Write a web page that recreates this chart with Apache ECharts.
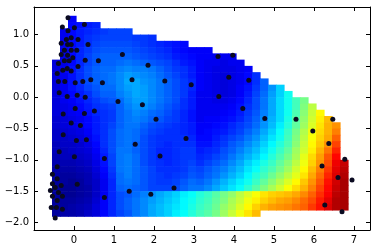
<!DOCTYPE html>
<html>
<head>
<meta charset="utf-8">
<script src="https://cdn.jsdelivr.net/npm/echarts@6/dist/echarts.min.js"></script>
<style>
html,body{margin:0;padding:0;background:#fff;}
#chart{width:375px;height:251px;}
</style>
</head>
<body>
<div id="chart"></div>
<script>
const _ = null;
// grid cell centres of the interpolated field
const xCenters = [-0.45,-0.25,-0.05,0.15,0.35,0.55,0.75,0.95,1.15,1.35,1.55,1.75,1.95,2.15,2.35,2.55,2.75,2.95,3.15,3.35,3.55,3.75,3.95,4.15,4.35,4.55,4.75,4.95,5.15,5.35,5.55,5.75,5.95,6.15,6.35,6.55,6.75];
const yCenters = [1.25,1.15,1.05,0.95,0.85,0.75,0.65,0.55,0.45,0.35,0.25,0.15,0.05,-0.05,-0.15,-0.25,-0.35,-0.45,-0.55,-0.65,-0.75,-0.85,-0.95,-1.05,-1.15,-1.25,-1.35,-1.45,-1.55,-1.65,-1.75,-1.85];
// field values (0..100 on the jet scale), one row per yCenter
const zRows = [
[_,_,12,_,_,_,_,_,_,_,_,_,_,_,_,_,_,_,_,_,_,_,_,_,_,_,_,_,_,_,_,_,_,_,_,_,_],
[_,_,13,14,15,16,_,_,_,_,_,_,_,_,_,_,_,_,_,_,_,_,_,_,_,_,_,_,_,_,_,_,_,_,_,_,_],
[_,11,13,15,16,17,18,19,19,19,_,_,_,_,_,_,_,_,_,_,_,_,_,_,_,_,_,_,_,_,_,_,_,_,_,_,_],
[_,11,13,15,17,18,19,19,19,19,18,18,17,_,_,_,_,_,_,_,_,_,_,_,_,_,_,_,_,_,_,_,_,_,_,_,_],
[_,11,13,15,17,19,20,20,20,20,19,18,17,16,15,14,13,_,_,_,_,_,_,_,_,_,_,_,_,_,_,_,_,_,_,_,_],
[_,10,13,16,18,20,21,21,21,21,20,19,18,17,16,14,13,12,12,12,_,_,_,_,_,_,_,_,_,_,_,_,_,_,_,_,_],
[_,10,13,16,19,21,22,22,22,22,21,20,19,18,17,15,14,13,12,12,11,11,11,_,_,_,_,_,_,_,_,_,_,_,_,_,_],
[9,10,13,16,19,21,22,22,23,24,23,22,21,20,19,17,15,14,12,11,11,10,11,11,_,_,_,_,_,_,_,_,_,_,_,_,_],
[9,11,14,17,20,22,23,23,25,26,25,25,24,22,20,18,17,15,12,11,10,10,10,11,12,_,_,_,_,_,_,_,_,_,_,_,_],
[9,11,14,17,20,22,23,24,26,28,27,26,25,23,21,19,17,15,12,11,10,9,10,11,13,17,_,_,_,_,_,_,_,_,_,_,_],
[9,11,14,17,20,22,23,24,26,29,29,27,26,24,22,20,18,16,12,11,10,9,10,11,13,17,22,_,_,_,_,_,_,_,_,_,_],
[9,11,14,16,19,21,23,23,26,28,29,28,26,24,22,20,18,16,12,11,10,9,10,12,14,18,22,27,33,_,_,_,_,_,_,_,_],
[9,11,13,15,17,20,22,22,25,27,29,28,26,24,22,20,18,15,11,11,10,9,10,12,15,19,23,28,33,39,_,_,_,_,_,_,_],
[9,11,12,14,16,18,20,21,23,26,28,28,26,24,22,20,17,15,11,11,10,10,11,13,16,20,24,29,34,39,44,49,_,_,_,_,_],
[9,10,11,13,15,17,18,19,22,25,27,27,25,23,21,19,17,15,11,11,11,11,12,14,17,20,24,29,34,39,44,50,56,_,_,_,_],
[9,10,11,12,14,16,17,18,22,24,26,25,23,22,20,18,16,14,11,11,11,12,13,15,18,21,25,29,34,39,45,51,57,63,_,_,_],
[8,9,10,11,13,15,17,18,22,24,25,24,22,21,19,18,16,14,11,12,12,13,14,16,19,22,26,30,34,40,46,52,58,64,69,_,_],
[8,9,10,11,13,15,17,19,22,24,24,22,20,19,18,17,16,15,12,12,13,14,16,18,20,23,27,31,36,41,47,53,59,65,70,73,_],
[7,8,9,10,12,15,17,20,23,24,23,21,19,18,17,17,16,15,12,13,14,15,17,19,22,25,29,33,38,43,49,55,61,66,70,75,_],
[7,7,8,9,11,14,17,20,23,24,23,20,18,17,17,17,17,16,13,13,15,17,19,21,24,27,31,35,39,44,50,56,62,67,71,78,_],
[6,7,7,8,10,13,17,20,23,24,22,20,18,17,16,17,17,17,14,14,16,18,21,23,26,29,33,37,41,45,51,57,63,68,73,81,_],
[6,6,7,8,9,12,16,20,24,24,22,20,18,16,16,17,18,18,15,16,17,20,22,25,28,31,35,39,43,47,53,58,64,70,76,84,_],
[5,6,6,7,8,11,15,19,24,25,23,20,18,16,16,17,18,18,16,17,19,21,24,27,30,33,37,41,45,49,54,60,66,72,79,87,_],
[5,5,5,6,7,10,14,19,24,25,23,20,18,17,16,17,18,19,17,19,21,23,26,29,33,36,40,43,47,51,56,61,67,73,80,89,93],
[4,4,4,5,6,9,13,18,24,25,23,21,19,17,17,17,18,20,19,21,23,25,28,31,35,38,42,45,49,53,58,63,69,75,82,90,94],
[4,3,3,4,5,8,12,17,23,25,23,21,19,18,17,18,19,21,20,22,24,27,30,33,37,41,44,48,52,56,60,65,71,77,84,91,95],
[3,3,2,3,5,7,11,16,23,24,23,21,19,18,18,19,21,23,22,24,27,30,33,36,39,43,47,51,55,59,63,68,73,79,86,92,96],
[3,2,2,3,4,7,11,16,22,23,22,21,19,19,19,20,22,24,24,26,29,32,35,38,42,46,50,54,58,62,66,70,75,81,87,93,96],
[3,2,2,3,4,7,11,16,20,21,23,25,27,29,31,33,36,38,41,43,46,49,52,56,59,62,65,67,68,69,71,74,78,83,88,94,96],
[3,3,3,4,5,8,12,16,20,22,24,26,28,30,32,34,37,39,42,44,47,50,54,57,61,64,67,69,71,72,74,77,80,85,90,95,96],
[3,3,4,5,6,9,12,16,20,22,24,26,29,31,33,35,37,40,43,45,48,52,55,59,63,67,70,72,73,74,76,78,82,86,91,95,96],
[3,4,4,5,7,9,13,16,19,21,24,26,29,31,33,36,38,41,44,46,49,53,57,61,65,69,_,_,_,_,_,_,_,_,_,_,_]
];
// scattered sample points
const pointX = [-0.15,-0.29,0.26,0.01,-0.15,-0.07,0.10,-0.19,-0.32,-0.16,-0.07,0.35,-0.24,-0.07,0.07,-0.32,-0.16,-0.03,-0.24,-0.12,0.28,0.61,1.21,-0.39,0.10,-0.28,-0.17,-0.07,-0.42,-0.23,-0.39,0.03,0.22,0.42,0.71,-0.37,-0.17,0.08,0.28,1.10,0.03,-0.27,0.26,0.51,1.85,1.45,2.27,2.93,1.71,2.05,3.60,3.97,3.87,4.37,3.62,4.22,4.77,5.55,6.47,5.97,6.37,6.77,6.20,6.60,6.95,6.27,6.70,2.80,1.53,2.15,2.50,1.38,1.92,-0.07,0.16,-0.27,0.06,0.31,-0.37,0.01,0.76,-0.42,-0.54,-0.42,-0.54,0.08,-0.32,-0.47,-0.59,-0.39,-0.54,-0.29,-0.42,0.76,-0.57,-0.44,-0.29,-0.47];
const pointY = [1.27,1.12,1.16,1.11,1.06,0.95,0.92,0.92,0.86,0.84,0.84,0.84,0.75,0.75,0.75,0.68,0.67,0.63,0.58,0.58,0.59,0.58,0.68,0.54,0.49,0.43,0.46,0.42,0.38,0.25,0.25,0.23,0.25,0.28,0.23,0.07,0.01,0.03,0.00,-0.07,-0.18,-0.27,-0.26,-0.22,0.51,0.28,0.26,0.20,-0.12,-0.35,0.65,0.67,0.32,0.27,0.01,-0.18,-0.34,-0.35,-0.35,-0.54,-0.74,-0.99,-1.10,-1.28,-1.32,-1.72,-1.83,-0.66,-0.75,-0.94,-1.45,-1.50,-1.55,-0.41,-0.45,-0.60,-0.69,-0.68,-0.87,-0.95,-0.98,-1.11,-1.23,-1.30,-1.38,-1.39,-1.41,-1.44,-1.49,-1.52,-1.58,-1.58,-1.65,-1.60,-1.76,-1.76,-1.79,-1.93];
// axis ticks
const xTicks = [0,1,2,3,4,5,6,7];
const yTicks = [-2.0,-1.5,-1.0,-0.5,0.0,0.5,1.0];
const xRange = [-1, 7.4];
const yRange = [-2.12, 1.44];
const zRange = [0, 100];

const cellData = [];
yCenters.forEach((y, j) => {
  xCenters.forEach((x, i) => {
    const v = zRows[j][i];
    if (v !== null) cellData.push([x, y, v]);
  });
});
const pts = pointX.map((x, i) => [x, pointY[i]]);
const cellW = xCenters[1] - xCenters[0];
const cellH = yCenters[0] - yCenters[1];

const jet = ['#00007f','#0000ff','#007fff','#00ffff','#7fff7f','#ffff00','#ff7f00','#ff0000','#7f0000'];
const font = 'DejaVu Sans';
const fmtY = v => (v < 0 ? '\u2212' : '') + Math.abs(v).toFixed(1);

function axisCommon() {
  return {
    axisLine: {show: true, onZero: false, lineStyle: {color: '#000', width: 1}},
    splitLine: {show: false},
  };
}

const chart = echarts.init(document.getElementById('chart'), null, {renderer: 'canvas'});
chart.setOption({
  animation: false,
  backgroundColor: '#fff',
  grid: {left: 34, right: 5, top: 7, bottom: 21},
  visualMap: {show: false, type: 'continuous', min: zRange[0], max: zRange[1], dimension: 2, seriesIndex: 0, inRange: {color: jet}},
  xAxis: [
    Object.assign({type: 'value', min: xRange[0], max: xRange[1], position: 'bottom',
      axisTick: {show: true, inside: true, length: 4, customValues: xTicks, lineStyle: {color: '#000'}},
      axisLabel: {show: true, customValues: xTicks, formatter: v => String(v), color: '#000', fontSize: 10, fontFamily: font, margin: 5}
    }, axisCommon()),
    Object.assign({type: 'value', min: xRange[0], max: xRange[1], position: 'top',
      axisTick: {show: true, inside: true, length: 4, customValues: xTicks, lineStyle: {color: '#000'}},
      axisLabel: {show: false}
    }, axisCommon())
  ],
  yAxis: [
    Object.assign({type: 'value', min: yRange[0], max: yRange[1], position: 'left',
      axisTick: {show: true, inside: true, length: 4, customValues: yTicks, lineStyle: {color: '#000'}},
      axisLabel: {show: true, customValues: yTicks, formatter: fmtY, color: '#000', fontSize: 10, fontFamily: font, margin: 5}
    }, axisCommon()),
    Object.assign({type: 'value', min: yRange[0], max: yRange[1], position: 'right',
      axisTick: {show: true, inside: true, length: 4, customValues: yTicks, lineStyle: {color: '#000'}},
      axisLabel: {show: false}
    }, axisCommon())
  ],
  series: [
    {
      type: 'custom',
      xAxisIndex: 0, yAxisIndex: 0,
      data: cellData,
      encode: {x: 0, y: 1},
      clip: true,
      z: 1,
      renderItem: function (params, api) {
        const x = api.value(0), y = api.value(1);
        const p1 = api.coord([x - cellW / 2, y + cellH / 2]);
        const p2 = api.coord([x + cellW / 2, y - cellH / 2]);
        return {
          type: 'rect',
          shape: {x: p1[0], y: p1[1], width: p2[0] - p1[0] + 0.6, height: p2[1] - p1[1] + 0.6},
          style: {fill: api.visual('color'), stroke: null}
        };
      }
    },
    {
      type: 'scatter',
      xAxisIndex: 0, yAxisIndex: 0,
      data: pts,
      symbol: 'circle',
      symbolSize: 5,
      itemStyle: {color: '#0a0a20', opacity: 1},
      z: 5
    }
  ]
});
</script>
</body>
</html>
